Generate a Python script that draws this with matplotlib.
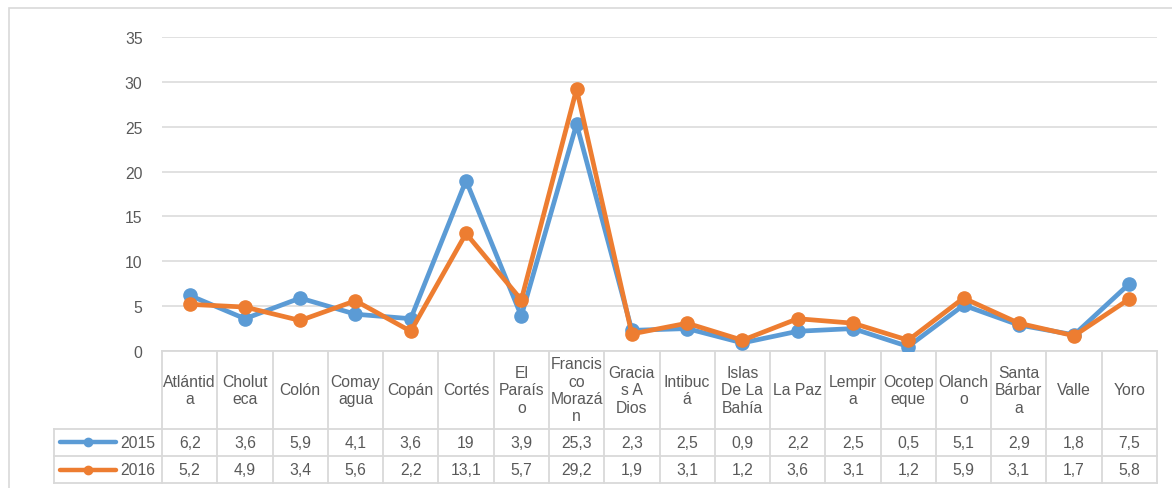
import matplotlib.pyplot as plt
from matplotlib.lines import Line2D
from matplotlib.patches import Rectangle
from matplotlib.transforms import blended_transform_factory

plt.rcParams['font.family'] = ['Liberation Sans', 'DejaVu Sans']

# etiquetas tal como aparecen en la tabla (con el corte de Excel)
departamentos = ['Atlántid\na', 'Cholut\neca', 'Colón', 'Comay\nagua', 'Copán', 'Cortés',
                 'El\nParaís\no', 'Francis\nco\nMorazá\nn', 'Gracia\ns A\nDios', 'Intibuc\ná',
                 'Islas\nDe La\nBahía', 'La Paz', 'Lempir\na', 'Ocotep\neque', 'Olanch\no',
                 'Santa\nBárbar\na', 'Valle', 'Yoro']
v2015 = [6.2, 3.6, 5.9, 4.1, 3.6, 19, 3.9, 25.3, 2.3, 2.5, 0.9, 2.2, 2.5, 0.5, 5.1, 2.9, 1.8, 7.5]
v2016 = [5.2, 4.9, 3.4, 5.6, 2.2, 13.1, 5.7, 29.2, 1.9, 3.1, 1.2, 3.6, 3.1, 1.2, 5.9, 3.1, 1.7, 5.8]
series = [('2015', v2015, '#5B9BD5'), ('2016', v2016, '#ED7D31')]
yticks = [0, 5, 10, 15, 20, 25, 30, 35]

W, H = 1172, 489
fs = 11.3
fig = plt.figure(figsize=(W / 100, H / 100), dpi=100)

# marco exterior del gráfico (se sale por la derecha y abajo)
fig.patches.append(Rectangle((9 / W, -0.1), 1.2, 1 - 9 / H + 0.1, transform=fig.transFigure,
                             fill=False, edgecolor='#D9D9D9', linewidth=1.2))

left, right, top, bottom = 162, 1157, 38, 352
ax = fig.add_axes([left / W, 1 - bottom / H, (right - left) / W, (bottom - top) / H])
n = len(departamentos)
x = list(range(n))

for name, vals, col in series:
    ax.plot(x, vals, color=col, linewidth=3.4, marker='o', markersize=9.5,
            solid_joinstyle='round', zorder=3)

ax.set_xlim(-0.5, n - 0.5)
ax.set_ylim(0, 35)
ax.set_yticks(yticks)
ax.set_xticks([])
ax.yaxis.grid(True, color='#D9D9D9', linewidth=1.1)
ax.set_axisbelow(True)
ax.tick_params(axis='y', length=0, pad=14, labelsize=fs, labelcolor='#595959')
for s in ax.spines.values():
    s.set_visible(False)

# tabla de datos debajo del gráfico
tr = blended_transform_factory(ax.transData, ax.transAxes)
ph = bottom - top
def ya(py):
    return (bottom - py) / ph

colw = (right - left) / n
leg_left = -0.5 - (left - 54) / colw
r0, r1, r2, r3 = ya(352), ya(429.5), ya(457), ya(484)
lc = '#D9D9D9'
lkw = dict(color=lc, linewidth=1.3, transform=tr, clip_on=False)

# horizontales
ax.add_line(Line2D([-0.5, n - 0.5], [r0, r0], **lkw))
for yy in (r1, r2, r3):
    ax.add_line(Line2D([leg_left, n - 0.5], [yy, yy], **lkw))
# verticales
ax.add_line(Line2D([leg_left, leg_left], [r1, r3], **lkw))
for i in range(n + 1):
    ax.add_line(Line2D([i - 0.5, i - 0.5], [r0, r3], **lkw))

tkw = dict(transform=tr, ha='center', va='center', fontsize=fs, color='#595959', clip_on=False)
for i, lab in enumerate(departamentos):
    ax.text(i, (r0 + r1) / 2, lab, linespacing=1.2, **tkw)
for (name, vals, col), (ya0, ya1) in zip(series, [(r1, r2), (r2, r3)]):
    yc = (ya0 + ya1) / 2
    for i, v in enumerate(vals):
        ax.text(i, yc, f'{v:g}'.replace('.', ','), **tkw)
    # clave de leyenda
    x0 = -0.5 - (left - 60) / colw
    x1 = -0.5 - (left - 116) / colw
    ax.add_line(Line2D([x0, x1], [yc, yc], color=col, linewidth=3.2, solid_capstyle='round',
                       transform=tr, clip_on=False))
    ax.add_line(Line2D([(x0 + x1) / 2], [yc], color=col, marker='o', markersize=6,
                       transform=tr, clip_on=False))
    ax.text(-0.5 - (left - 155) / colw, yc, name, transform=tr, ha='right', va='center',
            fontsize=fs, color='#595959', clip_on=False)

fig.savefig('out.png', dpi=100)
